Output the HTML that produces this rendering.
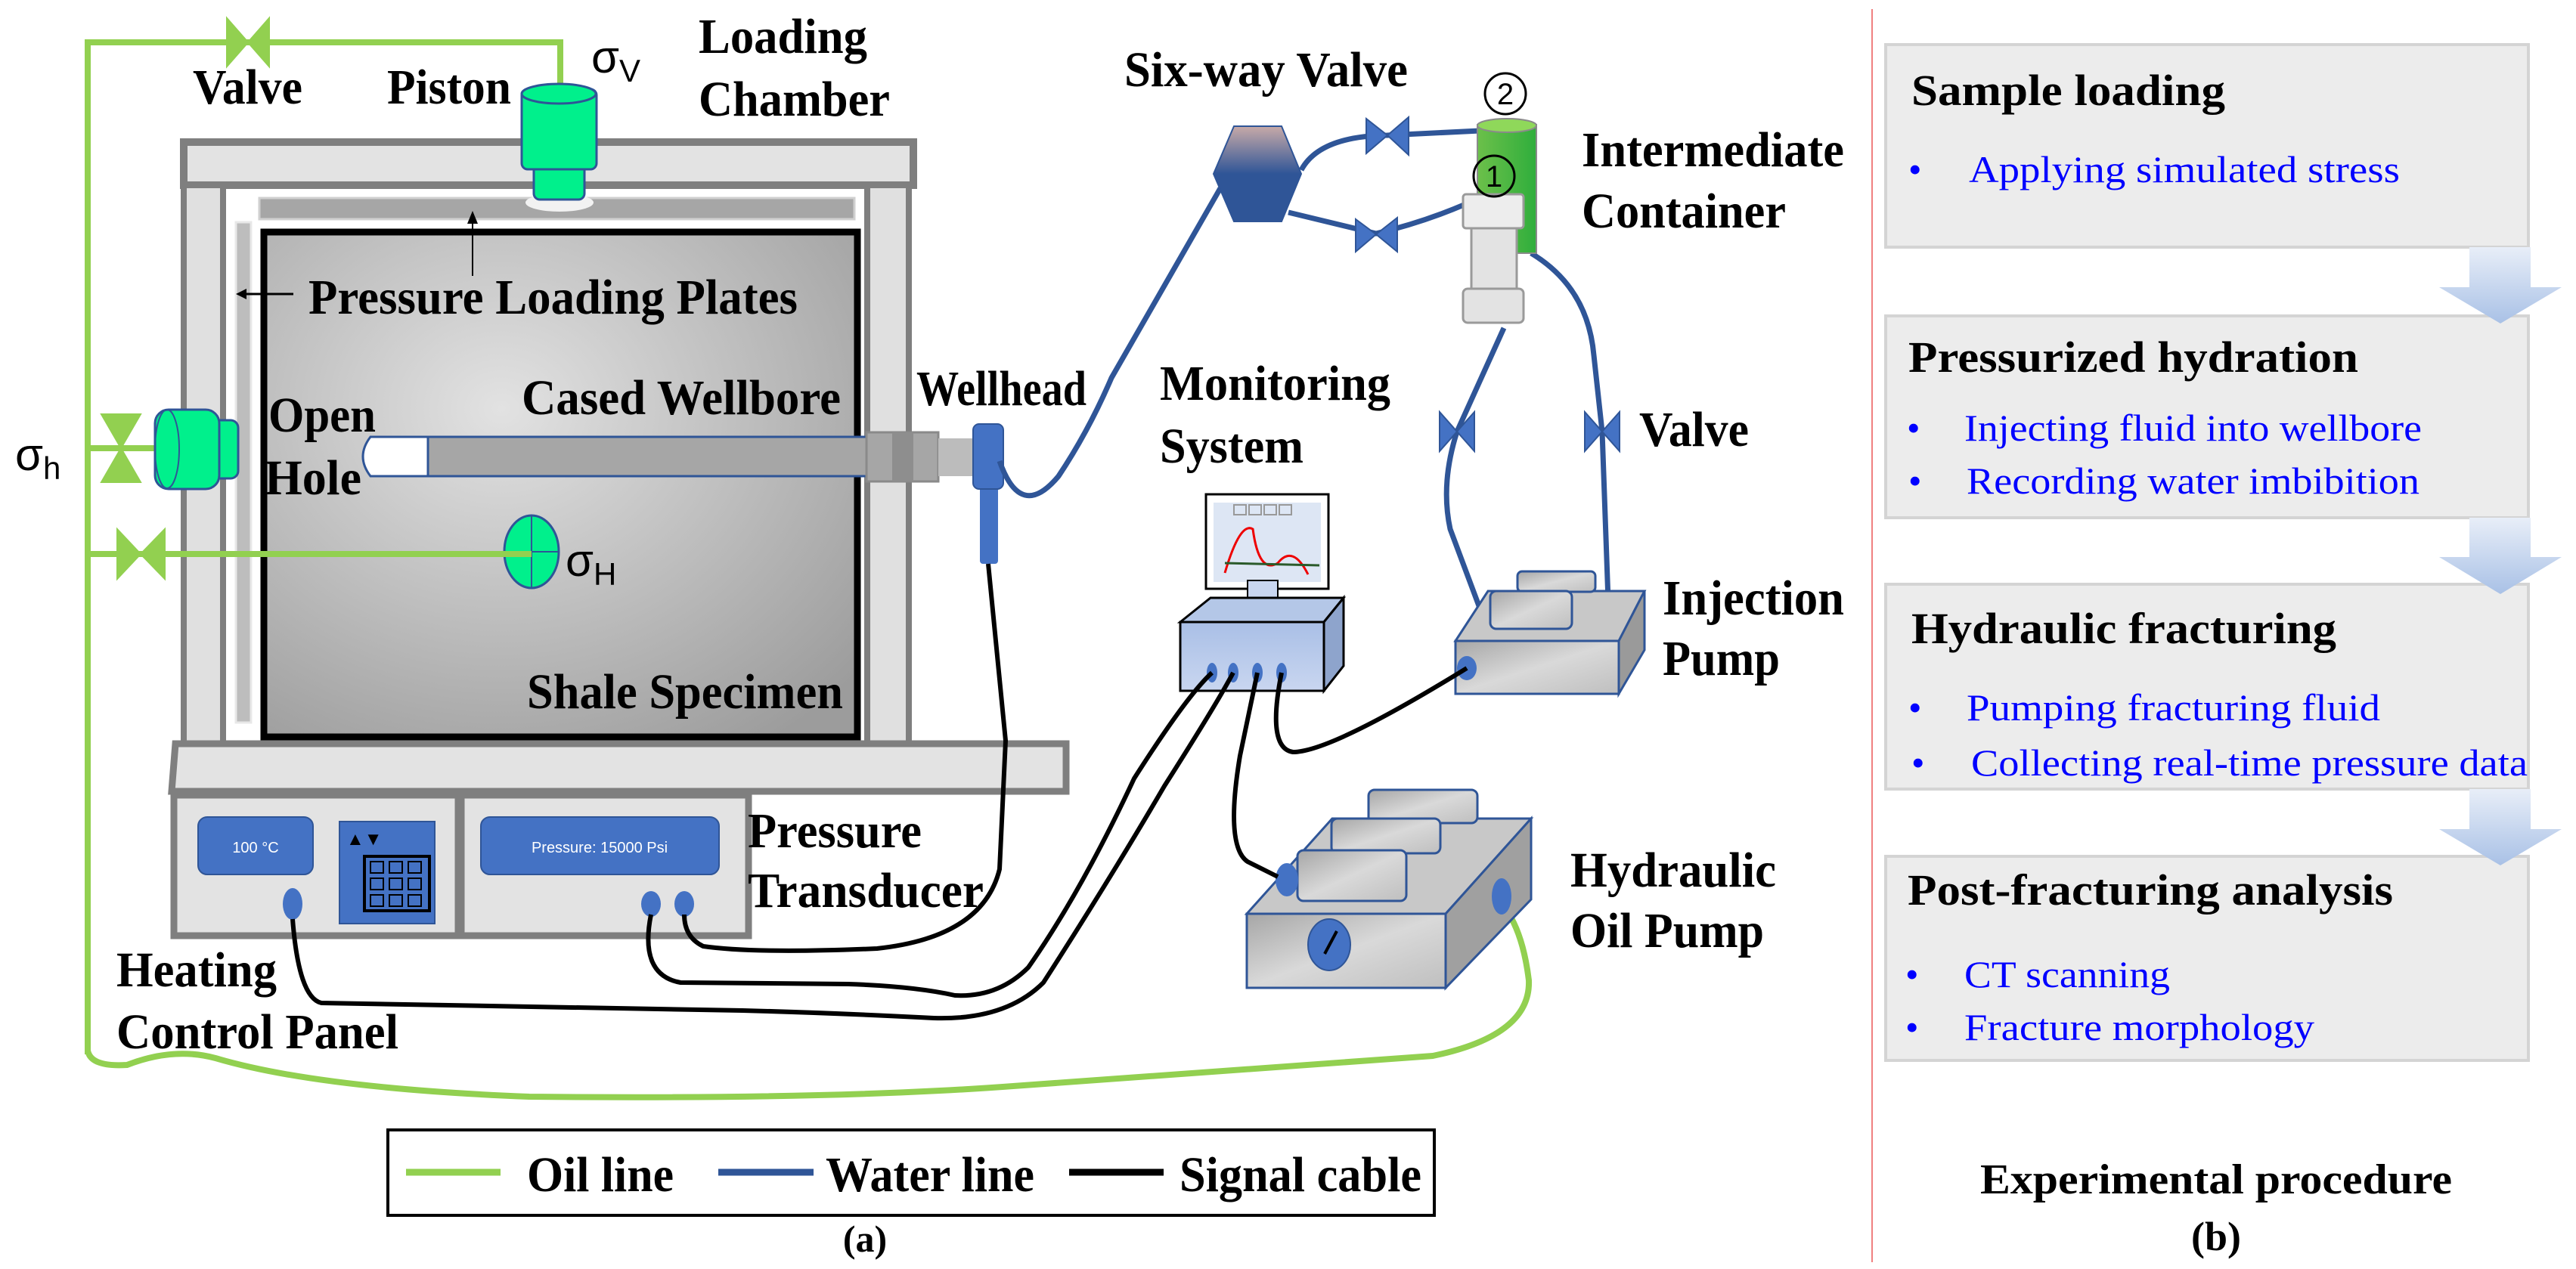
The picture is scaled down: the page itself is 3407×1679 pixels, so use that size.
<!DOCTYPE html>
<html><head><meta charset="utf-8"><style>
html,body{margin:0;padding:0;background:#fff;}
svg{display:block;}
text{font-family:"Liberation Serif",serif;font-weight:bold;fill:#000;}
.s{font-family:"Liberation Sans",sans-serif;font-weight:normal;}
.b{font-weight:normal;fill:#0000ff;}
</style></head><body>
<svg width="3407" height="1679" viewBox="0 0 3407 1679" xmlns="http://www.w3.org/2000/svg">
<defs>
<radialGradient id="spec" cx="0.4" cy="0.35" r="0.8"><stop offset="0" stop-color="#e2e2e2"/><stop offset="1" stop-color="#9c9c9c"/></radialGradient>
<linearGradient id="hex" x1="0" y1="0" x2="0" y2="1"><stop offset="0" stop-color="#c8aaa8"/><stop offset="0.5" stop-color="#2f5597"/><stop offset="1" stop-color="#2f5597"/></linearGradient>
<linearGradient id="gray" x1="0" y1="0" x2="1" y2="1"><stop offset="0" stop-color="#a6a6a6"/><stop offset="0.5" stop-color="#d9d9d9"/><stop offset="1" stop-color="#bfbfbf"/></linearGradient>
<linearGradient id="mon" x1="0" y1="0" x2="0" y2="1"><stop offset="0" stop-color="#a9bfe6"/><stop offset="1" stop-color="#c9d6f0"/></linearGradient>
<linearGradient id="arr" x1="0" y1="0" x2="0" y2="1"><stop offset="0" stop-color="#e8eef8"/><stop offset="1" stop-color="#a9c1e6"/></linearGradient>
<linearGradient id="grn" x1="0" y1="0" x2="1" y2="0"><stop offset="0" stop-color="#6cc04a"/><stop offset="1" stop-color="#2fae3c"/></linearGradient>
</defs>

<!-- Oil lines (green) -->
<g fill="none" stroke="#92d050" stroke-width="8">
<path d="M116 1395 L116 56 L741 56 L741 118"/>
<path d="M116 593 L205 593"/>
<path d="M116 733 L703 733"/>
<path d="M116 1390 Q120 1412 168 1409 Q230 1385 285 1400 Q420 1440 700 1451 Q1100 1455 1340 1437 Q1700 1410 1895 1397 Q2025 1370 2022 1297 Q2015 1240 1995 1208"/>
</g>
<g fill="#92d050" stroke="#92d050" stroke-width="2">
<polygon points="300,24 356,88 356,24 300,88" fill="#00e68a"/>
<polygon points="300,24 328,56 300,88"/><polygon points="356,24 328,56 356,88"/>
<polygon points="134,548 186,548 160,593"/><polygon points="134,638 186,638 160,593"/>
<polygon points="155,700 186,733 155,766"/><polygon points="218,700 186,733 218,766"/>
</g>

<!-- Chamber -->
<rect x="243" y="188" width="965" height="57" fill="#e3e3e3" stroke="#7f7f7f" stroke-width="10"/>
<rect x="243" y="245" width="52" height="740" fill="#e0e0e0" stroke="#7f7f7f" stroke-width="8"/>
<rect x="1147" y="245" width="55" height="740" fill="#e0e0e0" stroke="#7f7f7f" stroke-width="8"/>
<rect x="303" y="252" width="840" height="733" fill="#fff"/>
<rect x="343" y="262" width="787" height="28" fill="#a6a6a6" stroke="#d0d0d0" stroke-width="3"/>
<rect x="312" y="294" width="20" height="662" fill="#bdbdbd" stroke="#e8e8e8" stroke-width="3"/>
<rect x="349" y="307" width="785" height="668" fill="url(#spec)" stroke="#000" stroke-width="9"/>
<polygon points="232,984 1410,984 1410,1047 227,1047" fill="#e3e3e3" stroke="#7f7f7f" stroke-width="9"/>
<ellipse cx="740" cy="268" rx="45" ry="12" fill="#f2f2f2"/>
<rect x="706" y="218" width="67" height="46" rx="8" fill="#00f08c" stroke="#2f5597" stroke-width="3"/>
<rect x="690" y="118" width="99" height="106" rx="8" fill="#00f08c" stroke="#2f5597" stroke-width="3"/>
<ellipse cx="739" cy="124" rx="49" ry="13" fill="#00f08c" stroke="#2f5597" stroke-width="3"/>
<rect x="280" y="556" width="35" height="77" rx="10" fill="#00f08c" stroke="#2f5597" stroke-width="3"/>
<rect x="205" y="542" width="85" height="105" rx="18" fill="#00f08c" stroke="#2f5597" stroke-width="3"/>
<ellipse cx="221" cy="594" rx="16" ry="52" fill="none" stroke="#2f5597" stroke-width="2"/>
<ellipse cx="703" cy="730" rx="36" ry="48" fill="#00f08c" stroke="#2f5597" stroke-width="3"/>
<line x1="703" y1="682" x2="703" y2="778" stroke="#2f5597" stroke-width="2"/>
<line x1="667" y1="730" x2="739" y2="730" stroke="#2f5597" stroke-width="2"/>
<line x1="116" y1="733" x2="703" y2="733" stroke="#92d050" stroke-width="8"/>
<line x1="625" y1="365" x2="625" y2="292" stroke="#000" stroke-width="2"/>
<polygon points="618,296 632,296 625,279" fill="#000"/>
<line x1="388" y1="389" x2="322" y2="389" stroke="#000" stroke-width="3"/>
<polygon points="326,382 326,396 312,389" fill="#000"/>
<rect x="566" y="578" width="580" height="52" fill="#a6a6a6" stroke="#2f5597" stroke-width="3"/>
<path d="M566 578 L490 578 Q470 604 490 630 L566 630 Z" fill="#fff" stroke="#2f5597" stroke-width="3"/>
<rect x="1146" y="572" width="95" height="65" fill="#a6a6a6" stroke="#8a8a8a" stroke-width="3"/>
<rect x="1180" y="572" width="28" height="65" fill="#8e8e8e"/>
<rect x="1241" y="580" width="50" height="50" fill="#bcbcbc"/>
<rect x="1296" y="630" width="24" height="116" rx="4" fill="#4472c4"/>
<rect x="1287" y="561" width="40" height="86" rx="8" fill="#4472c4" stroke="#2f5597" stroke-width="2"/>

<!-- Control panel -->
<rect x="230" y="1052" width="376" height="186" fill="#e3e3e3" stroke="#7f7f7f" stroke-width="9"/>
<rect x="610" y="1052" width="380" height="186" fill="#e3e3e3" stroke="#7f7f7f" stroke-width="9"/>
<rect x="262" y="1081" width="152" height="76" rx="12" fill="#4472c4" stroke="#2f5597" stroke-width="2"/>
<text x="338" y="1128" class="s" font-size="20" text-anchor="middle" style="fill:#fff">100 °C</text>
<rect x="449" y="1087" width="126" height="135" fill="#4472c4" stroke="#2f5597" stroke-width="2"/>
<text x="458" y="1118" class="s" font-size="24" style="fill:#000">▲▼</text>
<rect x="482" y="1133" width="86" height="72" fill="#4472c4" stroke="#000" stroke-width="4"/>
<g fill="none" stroke="#000" stroke-width="2">
<rect x="490" y="1140" width="17" height="15"/><rect x="515" y="1140" width="17" height="15"/><rect x="540" y="1140" width="17" height="15"/>
<rect x="490" y="1162" width="17" height="15"/><rect x="515" y="1162" width="17" height="15"/><rect x="540" y="1162" width="17" height="15"/>
<rect x="490" y="1184" width="17" height="15"/><rect x="515" y="1184" width="17" height="15"/><rect x="540" y="1184" width="17" height="15"/>
</g>
<rect x="636" y="1081" width="315" height="76" rx="12" fill="#4472c4" stroke="#2f5597" stroke-width="2"/>
<text x="793" y="1128" class="s" font-size="20" text-anchor="middle" style="fill:#fff">Pressure: 15000 Psi</text>
<ellipse cx="387" cy="1196" rx="13" ry="21" fill="#4472c4"/>
<ellipse cx="861" cy="1196" rx="13" ry="17" fill="#4472c4"/>
<ellipse cx="905" cy="1196" rx="13" ry="17" fill="#4472c4"/>

<!-- Water lines -->
<g fill="none" stroke="#2f5597" stroke-width="7">
<path d="M1322 610 Q1350 690 1400 630 Q1440 570 1470 500 L1614 249"/>
<path d="M1721 225 Q1745 180 1835 179 L1998 171"/>
<path d="M1704 281 L1820 309 Q1900 290 1971 255"/>
<path d="M1989 434 L1927 571 Q1905 640 1918 700 L1958 807"/>
<path d="M2025 335 Q2100 380 2108 470 L2119 571 L2128 823"/>
</g>
<polygon points="1605,230 1632,167 1695,167 1721,230 1695,293 1632,293" fill="url(#hex)" stroke="#2f5597" stroke-width="2"/>
<g fill="#4472c4" stroke="#2f5597" stroke-width="2">
<polygon points="1807,157 1835,179 1807,203"/><polygon points="1863,155 1835,179 1863,205"/>
<polygon points="1793,290 1820,310 1793,333"/><polygon points="1848,288 1820,310 1848,333"/>
<polygon points="1904,545 1927,571 1904,597"/><polygon points="1950,545 1927,571 1950,597"/>
<polygon points="2096,545 2119,571 2096,597"/><polygon points="2142,545 2119,571 2142,597"/>
</g>
<rect x="1954" y="165" width="78" height="170" fill="url(#grn)" stroke="#8a8a8a" stroke-width="2"/>
<ellipse cx="1993" cy="166" rx="39" ry="9" fill="#8fd85a" stroke="#8a8a8a" stroke-width="2"/>
<rect x="1935" y="257" width="80" height="45" rx="4" fill="#ededed" stroke="#9a9a9a" stroke-width="3"/>
<rect x="1946" y="302" width="60" height="80" fill="#e3e3e3" stroke="#9a9a9a" stroke-width="3"/>
<rect x="1935" y="382" width="80" height="45" rx="6" fill="#e3e3e3" stroke="#9a9a9a" stroke-width="3"/>
<circle cx="1991" cy="124" r="27" fill="#fff" stroke="#000" stroke-width="3"/>
<text x="1991" y="138" class="s" font-size="40" text-anchor="middle">2</text>
<circle cx="1976" cy="233" r="27" fill="none" stroke="#000" stroke-width="3"/>
<text x="1976" y="247" class="s" font-size="40" text-anchor="middle">1</text>

<!-- Monitor -->
<rect x="1595" y="654" width="162" height="125" fill="#fff" stroke="#000" stroke-width="3"/>
<rect x="1605" y="665" width="142" height="105" fill="#dde6f4"/>
<g fill="none" stroke="#999" stroke-width="2"><rect x="1632" y="668" width="16" height="13"/><rect x="1652" y="668" width="16" height="13"/><rect x="1672" y="668" width="16" height="13"/><rect x="1692" y="668" width="16" height="13"/></g>
<path d="M1620 758 Q1640 690 1657 700 Q1665 760 1690 745 Q1710 720 1730 760" fill="none" stroke="#e00" stroke-width="3"/>
<line x1="1620" y1="745" x2="1745" y2="748" stroke="#2a5a2a" stroke-width="3"/>
<rect x="1650" y="768" width="40" height="34" fill="#c9d6f0" stroke="#000" stroke-width="2"/>
<polygon points="1561,823 1601,791 1777,791 1751,823" fill="#b4c7e7" stroke="#000" stroke-width="3"/>
<polygon points="1751,823 1777,791 1777,881 1751,914" fill="#8ea4cc" stroke="#000" stroke-width="3"/>
<rect x="1561" y="823" width="190" height="91" fill="url(#mon)" stroke="#000" stroke-width="3"/>
<g fill="#4472c4"><ellipse cx="1603" cy="890" rx="7" ry="13"/><ellipse cx="1631" cy="890" rx="7" ry="13"/><ellipse cx="1663" cy="890" rx="7" ry="13"/><ellipse cx="1695" cy="890" rx="7" ry="13"/></g>

<!-- Injection pump -->
<polygon points="1925,848 1968,782 2175,782 2141,848" fill="#c8c8c8" stroke="#2f5597" stroke-width="3"/>
<polygon points="2141,848 2175,782 2175,860 2141,918" fill="#9a9a9a" stroke="#2f5597" stroke-width="3"/>
<rect x="1925" y="848" width="216" height="70" fill="url(#gray)" stroke="#2f5597" stroke-width="3"/>
<rect x="2007" y="756" width="103" height="27" rx="6" fill="url(#gray)" stroke="#2f5597" stroke-width="3"/>
<rect x="1971" y="782" width="108" height="50" rx="8" fill="url(#gray)" stroke="#2f5597" stroke-width="3"/>
<ellipse cx="1940" cy="884" rx="13" ry="16" fill="#4472c4"/>

<!-- Hydraulic pump -->
<polygon points="1649,1209 1762,1083 2025,1083 1912,1209" fill="#c8c8c8" stroke="#2f5597" stroke-width="3"/>
<polygon points="1912,1209 2025,1083 2025,1190 1912,1307" fill="#a0a0a0" stroke="#2f5597" stroke-width="3"/>
<rect x="1649" y="1209" width="263" height="98" fill="url(#gray)" stroke="#2f5597" stroke-width="3"/>
<rect x="1810" y="1045" width="144" height="44" rx="8" fill="url(#gray)" stroke="#2f5597" stroke-width="3"/>
<rect x="1761" y="1083" width="144" height="46" rx="8" fill="url(#gray)" stroke="#2f5597" stroke-width="3"/>
<rect x="1716" y="1125" width="144" height="67" rx="8" fill="url(#gray)" stroke="#2f5597" stroke-width="3"/>
<ellipse cx="1758" cy="1250" rx="28" ry="34" fill="#4472c4" stroke="#2f5597" stroke-width="2"/>
<line x1="1752" y1="1262" x2="1768" y2="1232" stroke="#000" stroke-width="4"/>
<ellipse cx="1702" cy="1164" rx="15" ry="22" fill="#4472c4"/>
<ellipse cx="1986" cy="1186" rx="13" ry="24" fill="#4472c4"/>

<!-- Signal cables -->
<g fill="none" stroke="#000" stroke-width="6">
<path d="M1307 746 L1330 980 L1322 1150 Q1300 1240 1160 1255 Q1000 1262 930 1252 Q905 1240 905 1210"/>
<path d="M861 1210 Q845 1290 900 1300 L1122 1302 Q1210 1305 1263 1317 Q1320 1320 1360 1280 Q1430 1180 1500 1030 Q1570 920 1603 890"/>
<path d="M387 1216 Q395 1320 425 1327 L982 1337 Q1100 1340 1235 1347 Q1330 1350 1380 1300 Q1470 1160 1540 1040 Q1610 930 1631 890"/>
<path d="M1663 890 L1640 1000 Q1620 1120 1650 1140 L1690 1160"/>
<path d="M1695 890 Q1675 990 1710 995 Q1760 995 1940 884"/>
</g>

<!-- Labels (a) -->
<g font-size="66">
<text x="924" y="70" textLength="223" lengthAdjust="spacingAndGlyphs">Loading</text>
<text x="924" y="153" textLength="253" lengthAdjust="spacingAndGlyphs">Chamber</text>
<text x="255" y="137" textLength="145" lengthAdjust="spacingAndGlyphs">Valve</text>
<text x="512" y="137" textLength="164" lengthAdjust="spacingAndGlyphs">Piston</text>
<text x="408" y="415" textLength="647" lengthAdjust="spacingAndGlyphs">Pressure Loading Plates</text>
<text x="690" y="548" textLength="422" lengthAdjust="spacingAndGlyphs">Cased Wellbore</text>
<text x="355" y="571" textLength="142" lengthAdjust="spacingAndGlyphs">Open</text>
<text x="350" y="654" textLength="128" lengthAdjust="spacingAndGlyphs">Hole</text>
<text x="1212" y="536" textLength="225" lengthAdjust="spacingAndGlyphs">Wellhead</text>
<text x="697" y="937" textLength="418" lengthAdjust="spacingAndGlyphs">Shale Specimen</text>
<text x="1487" y="114" textLength="375" lengthAdjust="spacingAndGlyphs">Six-way Valve</text>
<text x="2092" y="220" textLength="347" lengthAdjust="spacingAndGlyphs">Intermediate</text>
<text x="2092" y="301" textLength="270" lengthAdjust="spacingAndGlyphs">Container</text>
<text x="1534" y="529" textLength="305" lengthAdjust="spacingAndGlyphs">Monitoring</text>
<text x="1534" y="612" textLength="190" lengthAdjust="spacingAndGlyphs">System</text>
<text x="2168" y="590" textLength="145" lengthAdjust="spacingAndGlyphs">Valve</text>
<text x="2199" y="813" textLength="240" lengthAdjust="spacingAndGlyphs">Injection</text>
<text x="2199" y="893" textLength="155" lengthAdjust="spacingAndGlyphs">Pump</text>
<text x="2077" y="1173" textLength="272" lengthAdjust="spacingAndGlyphs">Hydraulic</text>
<text x="2077" y="1253" textLength="256" lengthAdjust="spacingAndGlyphs">Oil Pump</text>
<text x="989" y="1121" textLength="230" lengthAdjust="spacingAndGlyphs">Pressure</text>
<text x="989" y="1200" textLength="312" lengthAdjust="spacingAndGlyphs">Transducer</text>
<text x="154" y="1305" textLength="212" lengthAdjust="spacingAndGlyphs">Heating</text>
<text x="154" y="1387" textLength="373" lengthAdjust="spacingAndGlyphs">Control Panel</text>
</g>
<text x="782" y="96" class="s" font-size="60">σ<tspan font-size="42" dy="12">V</tspan></text>
<text x="20" y="622" class="s" font-size="60">σ<tspan font-size="42" dy="12">h</tspan></text>
<text x="748" y="762" class="s" font-size="60">σ<tspan font-size="42" dy="12">H</tspan></text>

<!-- Legend -->
<rect x="513" y="1495" width="1384" height="113" fill="#fff" stroke="#000" stroke-width="4"/>
<line x1="537" y1="1551" x2="662" y2="1551" stroke="#92d050" stroke-width="9"/>
<text x="697" y="1576" font-size="66" textLength="194" lengthAdjust="spacingAndGlyphs">Oil line</text>
<line x1="950" y1="1551" x2="1076" y2="1551" stroke="#2f5597" stroke-width="9"/>
<text x="1092" y="1576" font-size="66" textLength="276" lengthAdjust="spacingAndGlyphs">Water line</text>
<line x1="1414" y1="1551" x2="1539" y2="1551" stroke="#000" stroke-width="9"/>
<text x="1560" y="1576" font-size="66" textLength="320" lengthAdjust="spacingAndGlyphs">Signal cable</text>
<text x="1144" y="1656" font-size="50" text-anchor="middle">(a)</text>

<line x1="2476" y1="12" x2="2476" y2="1670" stroke="#f08080" stroke-width="2"/>

<!-- Panel (b) -->
<g fill="#ececec" stroke="#d4d4d4" stroke-width="4">
<rect x="2494" y="59" width="850" height="268"/>
<rect x="2494" y="418" width="850" height="267"/>
<rect x="2494" y="773" width="850" height="271"/>
<rect x="2494" y="1133" width="850" height="270"/>
</g>
<g fill="url(#arr)">
<polygon points="3266,327 3347,327 3347,380 3388,380 3307,428 3226,380 3266,380"/>
<polygon points="3266,685 3347,685 3347,737 3388,737 3307,786 3226,737 3266,737"/>
<polygon points="3266,1044 3347,1044 3347,1097 3388,1097 3307,1145 3226,1097 3266,1097"/>
</g>
<g font-size="58">
<text x="2528" y="139" textLength="415" lengthAdjust="spacingAndGlyphs">Sample loading</text>
<text x="2524" y="492" textLength="595" lengthAdjust="spacingAndGlyphs">Pressurized hydration</text>
<text x="2528" y="851" textLength="562" lengthAdjust="spacingAndGlyphs">Hydraulic fracturing</text>
<text x="2523" y="1197" textLength="642" lengthAdjust="spacingAndGlyphs">Post-fracturing analysis</text>
</g>
<g font-size="50">
<text class="b" x="2524" y="241">•</text><text class="b" x="2604" y="241" textLength="570" lengthAdjust="spacingAndGlyphs">Applying simulated stress</text>
<text class="b" x="2522" y="583">•</text><text class="b" x="2598" y="583" textLength="605" lengthAdjust="spacingAndGlyphs">Injecting fluid into wellbore</text>
<text class="b" x="2524" y="653">•</text><text class="b" x="2601" y="653" textLength="599" lengthAdjust="spacingAndGlyphs">Recording water imbibition</text>
<text class="b" x="2524" y="953">•</text><text class="b" x="2601" y="953" textLength="547" lengthAdjust="spacingAndGlyphs">Pumping fracturing fluid</text>
<text class="b" x="2528" y="1026">•</text><text class="b" x="2607" y="1026" textLength="736" lengthAdjust="spacingAndGlyphs">Collecting real-time pressure data</text>
<text class="b" x="2520" y="1306">•</text><text class="b" x="2598" y="1306" textLength="272" lengthAdjust="spacingAndGlyphs">CT scanning</text>
<text class="b" x="2520" y="1376">•</text><text class="b" x="2598" y="1376" textLength="463" lengthAdjust="spacingAndGlyphs">Fracture morphology</text>
</g>
<text x="2619" y="1579" font-size="56" textLength="624" lengthAdjust="spacingAndGlyphs">Experimental procedure</text>
<text x="2931" y="1654" font-size="54" text-anchor="middle">(b)</text>
</svg>
</body></html>
